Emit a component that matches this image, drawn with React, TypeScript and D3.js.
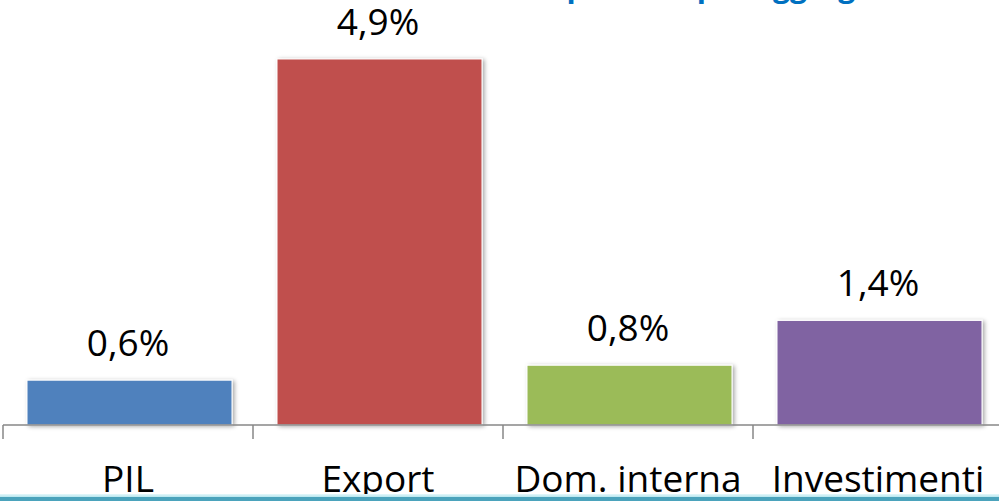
import React from "react";
import * as d3 from "d3";

const categories = ["PIL", "Export", "Dom. interna", "Investimenti"];
const values = [0.6, 4.9, 0.8, 1.4];
const barColors = ["#4F81BD", "#C0504D", "#9BBB59", "#8064A2"];
const titleText = "Crescita prevista per aggregato";

const W = 999;
const H = 501;

export default function App() {
  const x = d3.scaleBand<string>().domain(categories).range([4.5, 1004.5]).paddingInner(0.18).paddingOuter(0.09);
  const band = d3.scaleBand<string>().domain(categories).range([3, 1003]);
  const y = d3.scaleLinear().domain([0, 5]).range([425, 51.5]);
  const fmt = (v: number) => d3.format(".1f")(v).replace(".", ",") + "%";
  const font = "'Open Sans', sans-serif";

  return (
    <svg width={W} height={H} style={{ position: "absolute", left: 0, top: 0, background: "#fff" }}>
      <defs>
        <filter id="shadow" x="-10%" y="-10%" width="130%" height="130%">
          <feDropShadow dx="2" dy="1" stdDeviation="2" floodColor="#000" floodOpacity="0.35" />
        </filter>
        <linearGradient id="bottomGrad" x1="0" y1="0" x2="0" y2="1">
          <stop offset="0" stopColor="#e6f8fb" />
          <stop offset="1" stopColor="#b5e6ee" />
        </linearGradient>
      </defs>
      <text x={905} y={-3} textAnchor="end" fontFamily={font} fontWeight="bold" fontSize={30} fill="#0070C0">
        {titleText}
      </text>
      {categories.map((c, i) => (
        <rect
          key={c}
          x={x(c)}
          y={y(values[i])}
          width={x.bandwidth()}
          height={y(0) - y(values[i])}
          fill={barColors[i]}
          stroke="#fff"
          strokeWidth={1}
          filter="url(#shadow)"
        />
      ))}
      {categories.map((c, i) => (
        <text
          key={"v" + c}
          x={(band(c) as number) + band.bandwidth() / 2}
          y={y(values[i]) - 24}
          textAnchor="middle"
          fontFamily={font}
          fontSize={37}
          fill="#000"
        >
          {fmt(values[i])}
        </text>
      ))}
      <line x1={3} x2={W} y1={y(0)} y2={y(0)} stroke="#878787" strokeWidth={1.5} />
      {categories.map((c) => (
        <line key={"t" + c} x1={band(c)} x2={band(c)} y1={y(0)} y2={439} stroke="#878787" strokeWidth={1.5} />
      ))}
      {categories.map((c) => (
        <text
          key={"c" + c}
          x={(band(c) as number) + band.bandwidth() / 2}
          y={492}
          textAnchor="middle"
          fontFamily={font}
          fontSize={37}
          fill="#000"
        >
          {c}
        </text>
      ))}
      <rect x={0} y={494} width={W} height={3} fill="url(#bottomGrad)" />
      <rect x={0} y={497} width={W} height={4} fill="#4BA3BC" />
    </svg>
  );
}
